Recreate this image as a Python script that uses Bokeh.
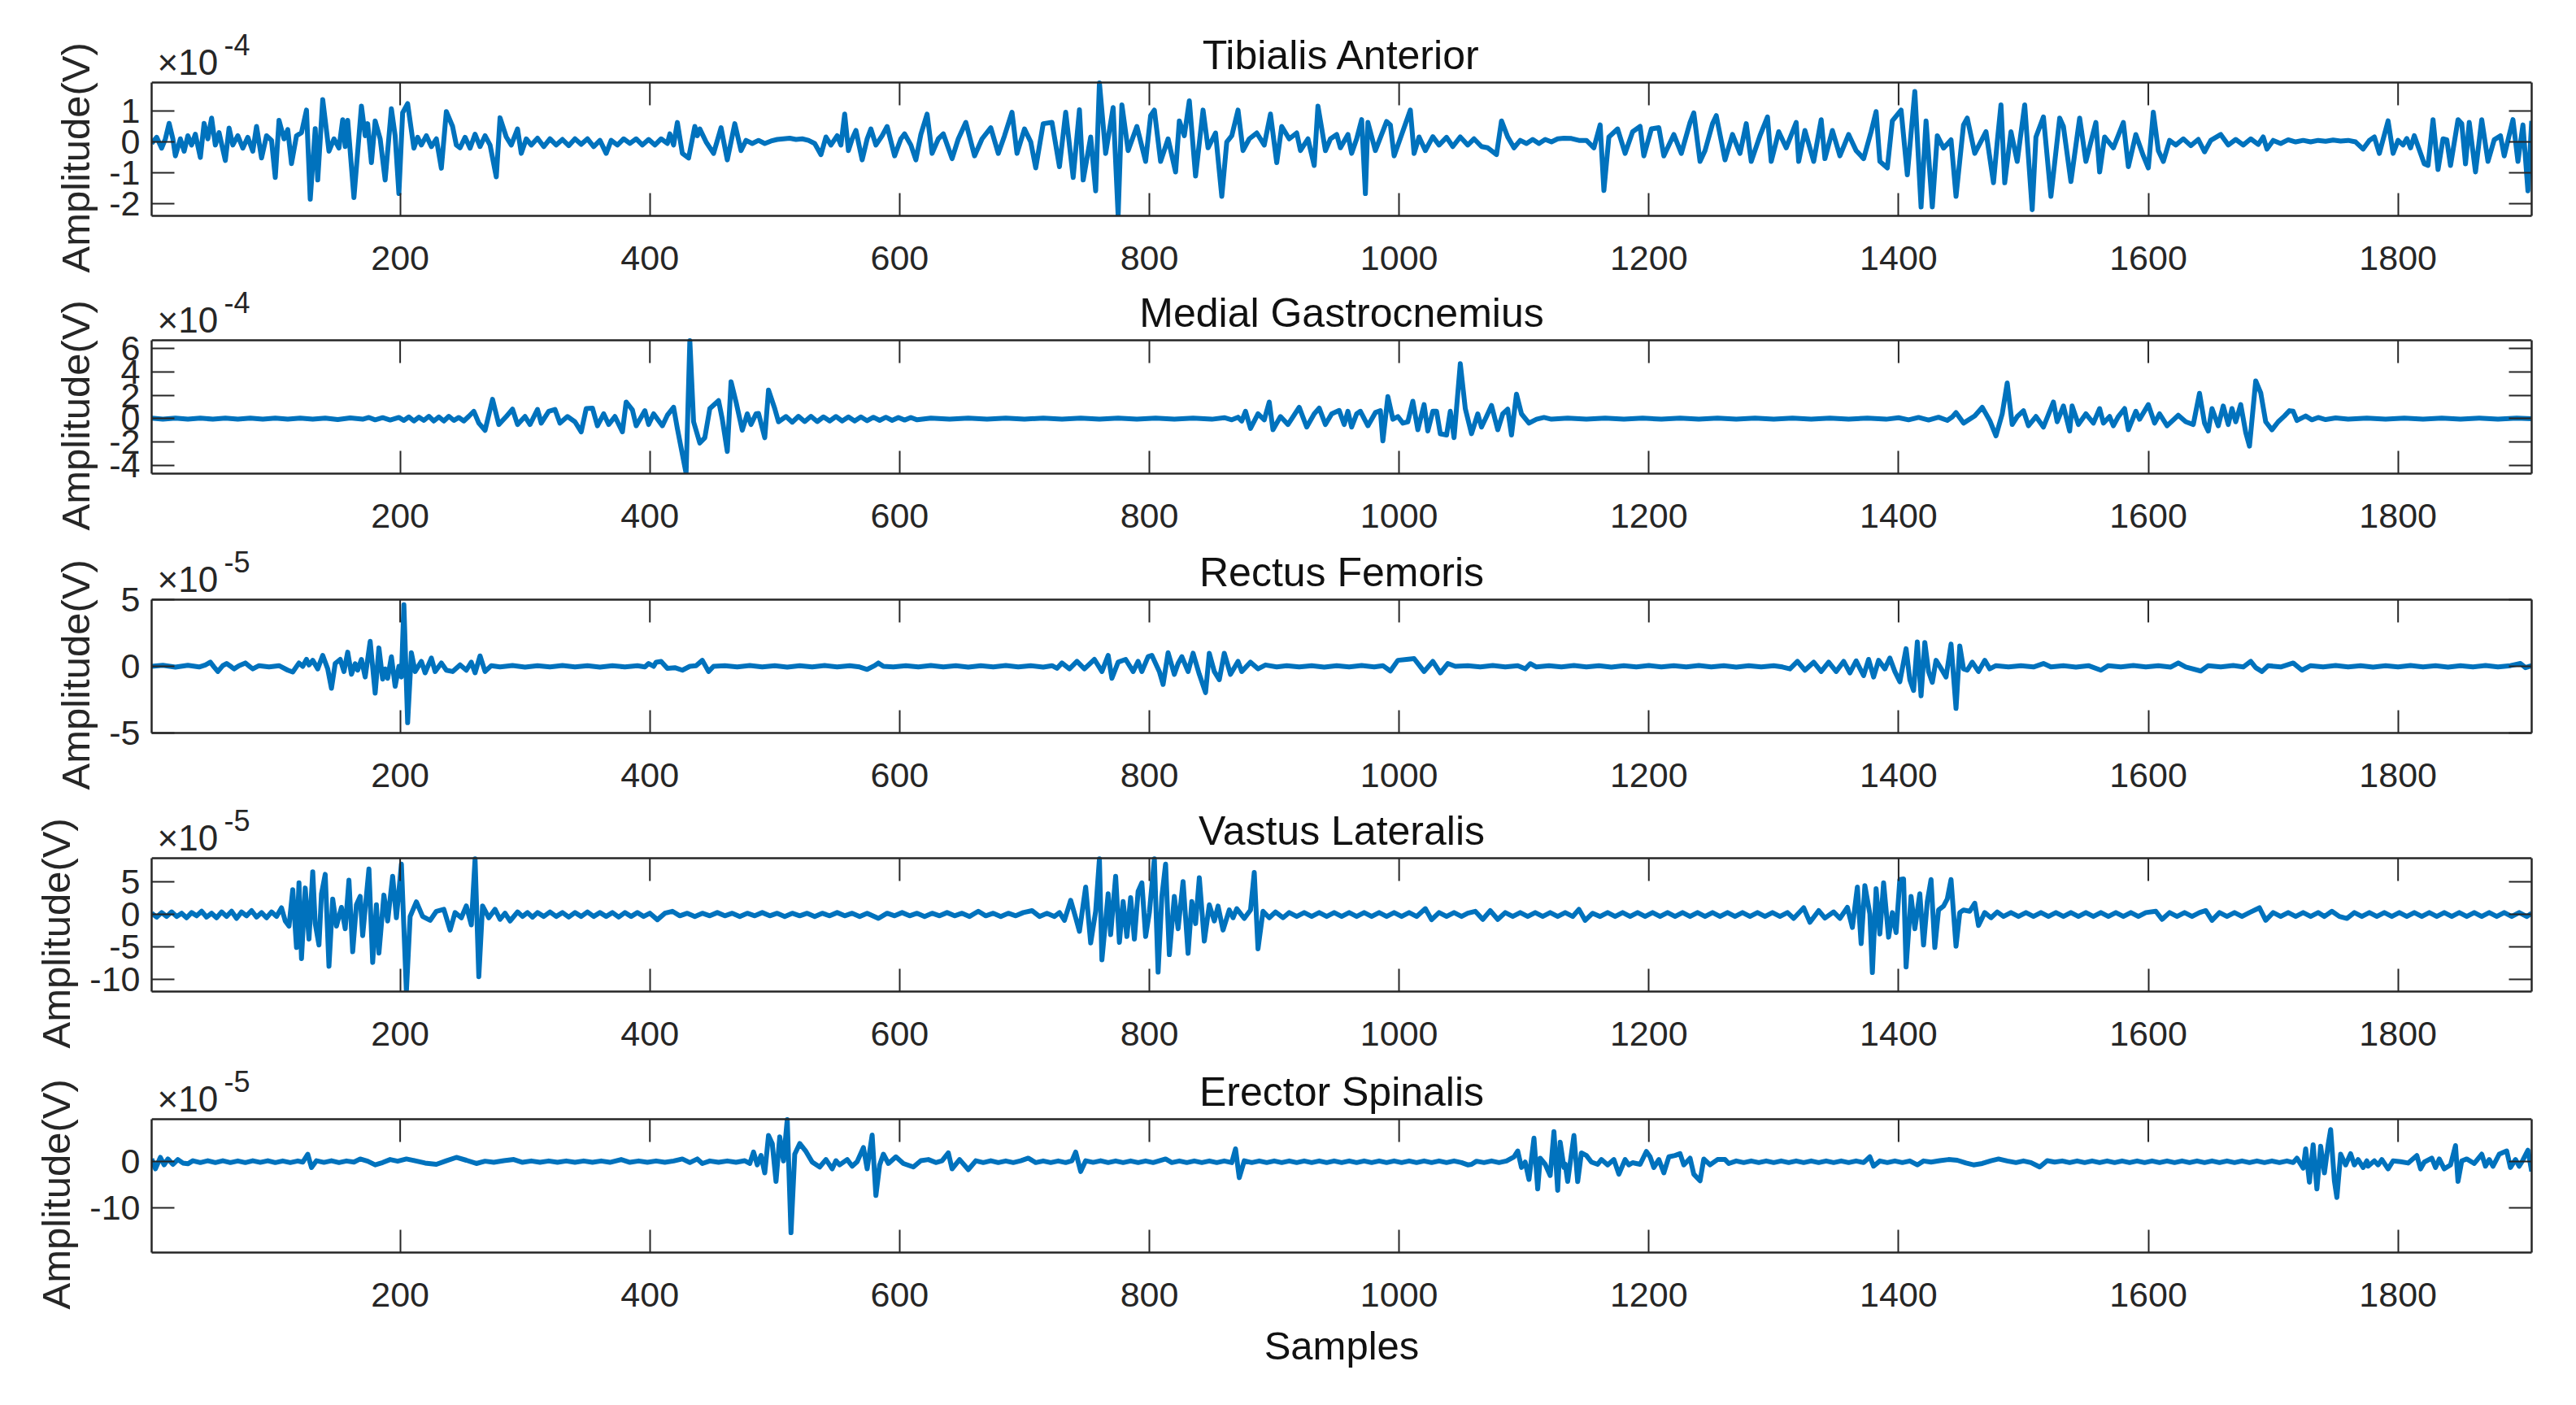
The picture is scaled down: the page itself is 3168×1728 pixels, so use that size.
from bokeh.plotting import figure
from bokeh.models import Range1d, FixedTicker, LinearAxis, Label, Span, Title
from bokeh.layouts import column
from bokeh.embed import file_html
from bokeh.resources import INLINE

# ---------------- data ----------------
titles = ["Tibialis Anterior", "Medial Gastrocnemius", "Rectus Femoris",
          "Vastus Lateralis", "Erector Spinalis"]
exponents = ["-4", "-4", "-5", "-5", "-5"]
y_limits = [(-2.39, 1.92), (-4.7, 6.7), (-5.0, 5.0), (-11.9, 8.7), (-19.7, 9.2)]
y_ticks = [[-2, -1, 0, 1], [-4, -2, 0, 2, 4, 6], [-5, 0, 5], [-10, -5, 0, 5], [-20, -10, 0]]
x_ticks = [200, 400, 600, 800, 1000, 1200, 1400, 1600, 1800]
x_limits = (1, 1907)

# (sample, amplitude in units of the panel's exponent)
tibialis = [(1,-0.05),(5,0.15),(9,-0.2),(12,0.1),(15,0.6),(18,0.1),(20,-0.45),(24,0.1),(27,-0.3),(30,0.2),(33,-0.1),(36,0.25),(40,-0.5),(43,0.6),(46,0.1),(49,0.77),(52,-0.1),(55,0.3),(60,-0.6),(63,0.45),(66,-0.1),(70,0.2),(74,-0.2),(78,0.15),(82,-0.3),(85,0.5),(89,-0.52),(93,0.2),(97,0.05),(100,-1.15),(103,0.7),(107,0.1),(110,0.4),(113,-0.7),(117,0.2),(121,0.3),(125,1.03),(128,-1.85),(132,0.43),(134,-1.23),(138,1.37),(143,-0.3),(147,0.1),(151,-0.2),(154,0.72),(156,-0.15),(158,0.7),(163,-1.8),(169,1.16),(172,0.2),(174,0.59),(177,-0.67),(180,0.68),(184,0.1),(188,-1.23),(193,1.07),(196,0.2),(199,-1.67),(202,0.94),(206,1.24),(211,-0.2),(214,0.15),(217,-0.1),(221,0.2),(225,-0.15),(229,0.1),(233,-0.85),(237,0.98),(242,0.5),(245,-0.1),(248,-0.19),(252,0.15),(256,-0.2),(260,0.25),(264,-0.15),(268,0.2),(272,-0.1),(277,-1.13),(280,0.78),(285,0.16),(289,-0.1),(294,0.42),(297,-0.37),(301,0.1),(305,-0.1),(310,0.12),(315,-0.15),(320,0.1),(325,-0.1),(330,0.08),(335,-0.12),(340,0.1),(345,-0.08),(350,0.1),(355,-0.15),(360,0.05),(365,-0.37),(369,0.05),(374,-0.1),(379,0.1),(384,-0.05),(389,0.1),(394,-0.1),(399,0.08),(404,-0.1),(409,0.1),(414,-0.05),(416,0.26),(419,-0.1),(422,0.63),(426,-0.37),(431,-0.52),(436,0.5),(438,0.2),(440,0.42),(445,0.0),(451,-0.37),(457,0.46),(462,-0.58),(468,0.59),(473,-0.28),(477,0.05),(482,-0.05),(487,0.05),(492,-0.05),(497,0.03),(502,0.08),(507,0.1),(512,0.12),(517,0.08),(522,0.1),(527,0.05),(532,-0.05),(537,-0.41),(541,0.16),(545,-0.1),(550,0.2),(553,-0.1),(556,0.9),(559,-0.28),(562,0.1),(565,0.37),(570,-0.58),(574,0.1),(577,0.42),(581,-0.1),(586,0.2),(590,0.5),(596,-0.45),(601,0.1),(604,0.26),(609,-0.1),(613,-0.58),(617,0.24),(622,0.9),(626,-0.37),(631,0.1),(635,0.26),(642,-0.54),(647,0.1),(653,0.63),(660,-0.45),(666,0.1),(673,0.46),(679,-0.37),(684,0.2),(690,0.96),(694,-0.37),(700,0.42),(705,0.0),(709,-0.84),(715,0.59),(722,0.63),(728,-0.8),(733,0.96),(739,-1.15),(744,1.04),(747,-1.23),(753,0.16),(757,-1.58),(760,1.91),(765,-0.37),(771,1.11),(775,-2.39),(778,1.2),(783,-0.28),(790,0.5),(797,-0.63),(801,0.85),(804,1.03),(809,-0.63),(815,0.1),(821,-0.97),(824,0.68),(828,0.2),(832,1.33),(837,-1.1),(843,1.03),(847,-0.19),(853,0.29),(858,-1.76),(862,0.0),(866,0.2),(871,1.03),(875,-0.28),(880,0.1),(886,0.29),(892,-0.1),(897,0.9),(902,-0.67),(906,0.5),(912,0.1),(918,0.29),(921,-0.28),(927,0.1),(932,-0.76),(935,1.16),(941,-0.28),(945,0.1),(950,0.24),(953,-0.19),(959,0.24),(962,-0.37),(966,0.1),(970,0.72),(973,-1.67),(975,0.63),(981,-0.28),(990,0.66),(993,0.55),(996,-0.45),(1009,1.03),(1012,-0.37),(1016,0.16),(1021,-0.28),(1027,0.17),(1032,-0.1),(1038,0.15),(1043,-0.15),(1049,0.16),(1055,-0.1),(1060,0.1),(1066,-0.15),(1071,-0.19),(1078,-0.41),(1082,0.68),(1087,0.16),(1092,-0.19),(1097,0.05),(1102,-0.05),(1107,0.08),(1112,-0.05),(1117,0.08),(1122,0.0),(1127,0.1),(1132,0.12),(1138,0.11),(1144,0.05),(1150,0.05),(1156,-0.19),(1161,0.55),(1164,-1.57),(1168,0.16),(1175,0.42),(1181,-0.37),(1187,0.33),(1193,0.5),(1196,-0.45),(1202,0.42),(1208,0.46),(1212,-0.45),(1220,0.24),(1226,-0.37),(1233,0.63),(1236,0.94),(1241,-0.63),(1245,-0.28),(1251,0.59),(1254,0.85),(1261,-0.58),(1267,0.24),(1273,-0.37),(1278,0.59),(1282,-0.63),(1289,0.2),(1295,0.81),(1298,-0.63),(1304,0.33),(1310,-0.19),(1318,0.63),(1320,-0.63),(1325,0.37),(1332,-0.63),(1338,0.72),(1341,-0.54),(1347,0.37),(1353,-0.45),(1360,0.24),(1366,-0.28),(1372,-0.54),(1378,0.33),(1382,0.98),(1385,-0.63),(1391,-0.84),(1395,0.68),(1402,1.03),(1407,-1.06),(1413,1.63),(1418,-2.1),(1422,0.68),(1427,-2.1),(1431,0.2),(1436,-0.2),(1442,0.07),(1446,-1.76),(1452,0.55),(1455,0.77),(1461,-0.37),(1470,0.33),(1476,-1.32),(1479,0.0),(1482,1.2),(1485,-1.32),(1490,0.33),(1495,-0.63),(1501,1.2),(1507,-2.19),(1510,0.16),(1516,0.81),(1522,-1.76),(1529,0.77),(1532,0.5),(1538,-1.28),(1545,0.77),(1550,-0.63),(1558,0.63),(1561,-0.97),(1565,0.16),(1572,-0.19),(1580,0.63),(1584,-0.8),(1590,0.24),(1596,-0.45),(1600,-0.84),(1604,0.96),(1608,-0.28),(1612,-0.63),(1617,0.05),(1622,-0.1),(1628,0.1),(1634,-0.12),(1640,0.08),(1645,-0.32),(1650,0.05),(1658,0.24),(1664,-0.1),(1670,0.08),(1676,-0.1),(1682,0.1),(1688,-0.08),(1692,0.16),(1695,-0.23),(1700,0.05),(1706,-0.05),(1712,0.07),(1718,0.0),(1724,0.05),(1730,0.0),(1736,0.05),(1742,0.02),(1748,0.06),(1754,0.03),(1760,0.05),(1766,0.0),(1772,-0.23),(1777,0.05),(1781,0.16),(1785,-0.37),(1792,0.68),(1796,-0.37),(1800,0.05),(1804,-0.1),(1807,0.11),(1810,-0.19),(1813,0.2),(1821,-0.71),(1824,-0.76),(1828,0.72),(1832,-0.89),(1836,0.1),(1839,0.07),(1842,-0.76),(1848,0.72),(1851,0.59),(1854,-0.71),(1857,0.63),(1862,-0.97),(1867,0.72),(1872,-0.63),(1877,0.07),(1882,0.2),(1885,-0.45),(1892,0.72),(1896,-0.63),(1900,0.55),(1904,-1.58),(1907,0.68)]

gastrocnemius = [(1,0.05),(10,-0.05),(20,0.05),(30,-0.05),(40,0.05),(50,-0.05),(60,0.05),(70,-0.05),(80,0.05),(90,-0.05),(100,0.05),(110,-0.05),(120,0.05),(130,-0.05),(140,0.05),(150,-0.08),(160,0.06),(170,-0.05),(175,0.1),(180,-0.1),(186,0.08),(192,-0.12),(199,0.1),(203,-0.15),(207,0.15),(211,-0.2),(215,0.12),(219,-0.15),(223,0.2),(227,-0.2),(231,0.15),(235,-0.2),(239,0.2),(243,-0.15),(247,0.1),(251,-0.2),(255,0.2),(259,0.63),(263,-0.38),(268,-1.0),(274,1.65),(279,-0.5),(285,0.18),(290,0.81),(294,-0.5),(300,0.18),(304,-0.5),(310,0.79),(313,-0.38),(319,0.63),(324,0.79),(328,-0.38),(334,0.18),(340,-0.27),(345,-1.13),(349,0.86),(354,0.9),(358,-0.61),(363,0.41),(367,-0.5),(372,0.18),(378,-1.13),(381,1.42),(386,0.75),(389,-0.61),(396,0.68),(399,-0.5),(403,0.41),(410,-0.61),(414,0.29),(419,0.97),(422,-0.84),(429,-4.68),(432,6.67),(435,-0.27),(440,-2.08),(444,-1.63),(448,0.86),(455,1.54),(458,-0.05),(462,-2.8),(465,3.16),(469,1.42),(474,-0.99),(478,0.41),(481,-0.5),(485,0.41),(487,0.45),(492,-1.63),(495,2.44),(500,0.86),(503,-0.27),(509,0.18),(514,-0.3),(519,0.2),(524,-0.25),(529,0.2),(534,-0.25),(539,0.15),(544,-0.2),(549,0.18),(554,-0.2),(559,0.15),(564,-0.2),(569,0.15),(574,-0.18),(579,0.12),(584,-0.15),(589,0.12),(594,-0.15),(599,0.1),(604,-0.12),(609,0.1),(614,-0.1),(625,0.05),(640,-0.05),(655,0.05),(670,-0.05),(685,0.05),(700,-0.05),(715,0.05),(730,-0.05),(745,0.05),(760,-0.05),(775,0.05),(790,-0.05),(805,0.05),(820,-0.05),(835,0.05),(850,-0.05),(860,0.08),(866,-0.1),(871,0.12),(874,-0.2),(877,0.63),(881,-0.84),(887,0.41),(892,-0.1),(896,1.42),(899,-0.95),(905,0.18),(911,-0.5),(920,0.97),(926,-0.72),(932,0.41),(936,0.9),(941,-0.5),(946,0.41),(952,0.7),(956,-0.5),(959,0.63),(962,-0.72),(966,0.41),(969,0.63),(975,-0.61),(981,0.52),(985,0.68),(987,-1.9),(991,1.88),(995,-0.05),(999,0.18),(1003,-0.38),(1007,-0.27),(1011,1.49),(1015,-0.95),(1020,1.2),(1023,-1.06),(1027,0.63),(1030,0.63),(1033,-1.29),(1038,-1.4),(1041,0.63),(1044,-1.63),(1049,4.7),(1053,0.86),(1058,-1.29),(1063,0.41),(1066,-0.72),(1070,0.18),(1074,1.13),(1079,-0.95),(1083,0.41),(1087,0.81),(1090,-1.4),(1094,2.1),(1098,0.41),(1104,-0.38),(1110,-0.05),(1116,0.1),(1122,-0.05),(1135,0.05),(1150,-0.05),(1165,0.05),(1180,-0.05),(1195,0.05),(1210,-0.05),(1225,0.05),(1240,-0.05),(1255,0.05),(1270,-0.05),(1285,0.05),(1300,-0.05),(1315,0.05),(1330,-0.05),(1345,0.05),(1360,-0.05),(1375,0.05),(1390,-0.05),(1400,0.08),(1408,-0.1),(1416,0.1),(1424,-0.12),(1432,0.12),(1439,-0.15),(1443,0.15),(1446,0.52),(1452,-0.38),(1461,0.23),(1467,0.97),(1473,-0.16),(1478,-1.47),(1483,0.41),(1487,3.05),(1491,-0.5),(1495,0.18),(1500,0.68),(1504,-0.61),(1510,0.18),(1516,-0.72),(1524,1.42),(1527,-0.27),(1532,1.08),(1537,-1.06),(1539,1.08),(1544,-0.5),(1550,0.41),(1556,-0.38),(1561,0.86),(1564,-0.38),(1569,0.18),(1572,-0.61),(1576,0.18),(1581,0.86),(1584,-0.95),(1590,0.63),(1593,-0.05),(1600,1.2),(1605,-0.38),(1609,0.41),(1615,-0.61),(1624,0.29),(1630,-0.27),(1636,-0.5),(1641,2.17),(1645,-0.38),(1648,-1.06),(1651,0.86),(1656,-0.61),(1660,1.08),(1664,-0.5),(1667,0.86),(1670,-0.27),(1674,1.2),(1678,-1.18),(1681,-2.35),(1686,3.23),(1690,2.21),(1694,-0.27),(1699,-0.95),(1704,-0.27),(1709,0.23),(1713,0.68),(1716,0.63),(1719,-0.16),(1726,0.23),(1731,-0.1),(1736,0.1),(1742,-0.08),(1750,0.06),(1760,-0.05),(1775,0.05),(1790,-0.05),(1805,0.05),(1820,-0.05),(1835,0.05),(1850,-0.05),(1865,0.05),(1880,-0.05),(1895,0.05),(1907,0.0)]

rectus = [(1,0.0),(10,0.08),(20,-0.06),(30,0.08),(39,-0.05),(44,0.1),(48,0.31),(51,-0.05),(54,-0.39),(58,0.05),(61,0.21),(65,-0.05),(67,-0.19),(71,0.05),(76,0.25),(80,-0.05),(82,-0.19),(87,0.05),(95,-0.05),(103,0.05),(110,-0.29),(114,-0.43),(119,0.25),(122,0.0),(125,0.52),(127,0.1),(130,0.45),(134,-0.19),(138,0.82),(142,-0.19),(145,-1.65),(148,0.21),(152,0.52),(155,-0.39),(158,1.06),(161,-0.6),(164,0.2),(166,-0.29),(169,0.52),(172,-0.8),(176,1.87),(180,-2.01),(183,1.38),(186,-0.96),(188,-0.2),(190,-0.9),(193,0.72),(196,-1.5),(199,0.0),(201,-0.8),(203,4.62),(206,-4.23),(209,1.02),(212,-0.39),(217,0.37),(220,-0.49),(225,0.62),(228,-0.39),(233,0.25),(237,-0.29),(242,-0.39),(248,0.11),(253,-0.29),(257,0.31),(260,-0.49),(264,0.78),(268,-0.39),(273,0.05),(280,-0.05),(290,0.06),(300,-0.06),(310,0.05),(320,-0.05),(330,0.06),(340,-0.05),(350,0.05),(360,-0.06),(370,0.05),(380,-0.05),(390,0.05),(396,-0.05),(399,0.21),(403,0.0),(405,0.31),(409,0.37),(414,-0.15),(420,-0.1),(426,-0.29),(432,0.0),(437,0.05),(442,0.45),(447,-0.39),(451,0.0),(460,0.05),(470,-0.05),(480,0.06),(490,-0.05),(500,0.05),(510,-0.06),(520,0.05),(530,-0.05),(540,0.06),(550,-0.05),(560,0.05),(568,-0.05),(574,-0.23),(580,0.05),(583,0.25),(587,0.0),(595,-0.05),(605,0.05),(615,-0.05),(625,0.06),(635,-0.05),(645,0.05),(655,-0.06),(665,0.05),(675,-0.05),(685,0.06),(695,-0.05),(705,0.05),(715,-0.06),(722,0.05),(726,-0.15),(730,0.25),(736,-0.19),(742,0.37),(748,-0.19),(756,0.52),(762,-0.39),(767,0.82),(770,-0.9),(775,0.31),(781,0.52),(787,-0.39),(791,0.37),(794,-0.39),(799,0.72),(802,0.82),(808,-0.39),(811,-1.36),(815,1.02),(820,-0.6),(823,0.21),(826,0.72),(831,-0.39),(835,0.98),(840,-0.6),(845,-1.97),(848,0.98),(852,-0.39),(856,-1.0),(860,0.98),(865,-0.6),(871,0.37),(874,-0.39),(881,0.31),(887,-0.19),(893,0.1),(902,-0.05),(910,0.05),(920,-0.05),(930,0.05),(940,-0.06),(950,0.05),(960,-0.05),(970,0.06),(980,-0.05),(987,0.05),(993,-0.35),(999,0.45),(1006,0.52),(1012,0.58),(1020,-0.39),(1027,0.37),(1033,-0.49),(1039,0.21),(1045,0.0),(1055,0.05),(1065,-0.05),(1075,0.06),(1085,-0.05),(1095,0.05),(1101,-0.19),(1105,0.2),(1110,-0.05),(1120,0.05),(1130,-0.05),(1140,0.06),(1150,-0.05),(1160,0.05),(1170,-0.06),(1180,0.05),(1190,-0.05),(1200,0.06),(1210,-0.05),(1220,0.05),(1230,-0.05),(1240,0.06),(1250,-0.05),(1260,0.05),(1270,-0.06),(1280,0.05),(1290,-0.05),(1300,0.05),(1307,-0.05),(1313,-0.19),(1319,0.37),(1325,-0.29),(1332,0.31),(1338,-0.39),(1344,0.31),(1350,-0.39),(1356,0.37),(1361,-0.49),(1366,0.41),(1372,-0.7),(1376,0.52),(1380,-0.8),(1384,0.45),(1389,-0.19),(1393,0.62),(1397,-0.39),(1401,-1.16),(1406,1.32),(1409,-1.0),(1412,-1.81),(1415,1.83),(1418,-2.21),(1421,1.79),(1424,-0.39),(1427,-1.2),(1430,0.45),(1433,0.0),(1438,-0.8),(1442,1.67),(1446,-3.16),(1449,1.53),(1452,-0.19),(1455,-0.29),(1459,0.31),(1464,-0.39),(1469,0.45),(1473,-0.19),(1478,0.05),(1488,-0.05),(1498,0.05),(1508,-0.05),(1516,0.21),(1522,-0.05),(1532,0.05),(1542,-0.06),(1552,0.05),(1562,-0.29),(1568,0.05),(1578,-0.05),(1588,0.06),(1598,-0.05),(1608,0.05),(1618,-0.06),(1624,0.25),(1630,-0.05),(1642,-0.35),(1648,0.05),(1658,-0.05),(1668,0.06),(1676,-0.05),(1682,0.37),(1686,-0.1),(1691,-0.39),(1696,0.05),(1706,-0.05),(1716,0.25),(1723,-0.29),(1730,0.05),(1740,-0.05),(1750,0.06),(1760,-0.05),(1770,0.05),(1780,-0.06),(1790,0.05),(1800,-0.05),(1810,0.06),(1820,-0.05),(1830,0.05),(1840,-0.06),(1850,0.05),(1860,-0.05),(1870,0.06),(1880,-0.05),(1890,0.05),(1898,0.21),(1902,-0.1),(1907,0.05)]

vastus = [(1,0.2),(5,-0.4),(9,0.3),(13,-0.3),(17,0.4),(21,-0.3),(25,0.2),(29,-0.5),(33,0.3),(37,-0.2),(41,0.5),(45,-0.4),(49,0.2),(53,-0.5),(57,0.4),(61,-0.3),(65,0.5),(69,-0.6),(73,0.4),(77,-0.2),(81,0.6),(85,-0.4),(89,0.3),(93,-0.5),(97,0.4),(101,-0.3),(105,1.04),(108,-1.0),(111,-1.8),(114,3.83),(117,-5.1),(119,4.9),(121,-6.8),(124,4.1),(127,-3.8),(130,6.6),(132,-1.4),(135,-4.7),(137,3.2),(140,6.2),(143,-8.0),(146,2.4),(149,-1.8),(153,1.1),(156,-2.2),(159,5.3),(162,-5.75),(165,1.5),(168,2.8),(170,-3.25),(175,7.04),(178,-7.4),(181,1.5),(183,-5.95),(187,3.0),(190,-1.0),(194,5.9),(197,-0.5),(201,7.8),(205,-11.9),(208,-0.3),(213,1.96),(218,-0.3),(224,-0.9),(229,0.5),(235,0.8),(240,-2.4),(244,0.3),(249,-0.5),(253,1.33),(257,-1.6),(260,8.6),(263,-9.6),(266,1.33),(271,-0.5),(276,0.8),(280,-0.75),(284,0.2),(288,-1.0),(294,0.4),(298,-0.3),(302,0.3),(306,-0.4),(310,0.3),(315,-0.3),(320,0.4),(325,-0.3),(330,0.3),(335,-0.4),(340,0.3),(345,-0.3),(350,0.4),(355,-0.3),(360,0.3),(365,-0.3),(370,0.3),(375,-0.4),(380,0.3),(385,-0.3),(390,0.3),(395,-0.3),(400,0.2),(406,-0.8),(412,0.2),(418,0.5),(424,-0.2),(430,0.2),(436,-0.3),(442,0.2),(448,-0.2),(454,0.3),(460,-0.2),(466,0.2),(472,-0.3),(478,0.2),(484,-0.2),(490,0.3),(496,-0.2),(502,0.2),(508,-0.3),(514,0.2),(520,-0.2),(526,0.2),(532,-0.3),(538,0.2),(544,-0.2),(550,0.3),(556,-0.2),(562,0.2),(568,-0.3),(574,0.2),(583,-0.6),(590,0.2),(596,-0.2),(602,0.3),(608,-0.2),(614,0.2),(620,-0.3),(626,0.2),(632,-0.2),(638,0.3),(644,-0.2),(650,0.2),(656,-0.3),(663,0.5),(669,-0.2),(675,0.2),(681,-0.3),(687,0.2),(693,-0.2),(699,0.3),(706,0.6),(712,-0.3),(718,0.2),(724,-0.3),(728,0.3),(732,-0.9),(737,2.2),(741,-0.5),(744,-2.6),(749,4.25),(753,-4.4),(757,0.5),(760,8.6),(762,-7.0),(767,3.2),(769,-3.1),(773,5.9),(776,-4.3),(779,2.0),(782,-3.4),(785,2.6),(788,-3.8),(791,3.6),(794,4.9),(797,-3.4),(800,0.3),(804,8.6),(807,-8.9),(810,2.8),(813,7.8),(816,-6.2),(820,2.8),(823,-2.2),(827,5.1),(831,-6.0),(834,2.0),(837,-1.4),(840,5.7),(844,-4.1),(848,1.5),(852,-1.0),(855,1.3),(859,-2.4),(864,0.7),(867,-0.5),(870,0.9),(876,-0.6),(881,0.7),(884,6.5),(887,-5.3),(891,0.5),(896,-0.5),(901,0.4),(907,-0.5),(912,0.3),(918,-0.3),(924,0.3),(930,-0.3),(936,0.3),(942,-0.3),(948,0.3),(954,-0.3),(960,0.3),(966,-0.3),(972,0.3),(978,-0.3),(984,0.3),(990,-0.3),(996,0.3),(1002,-0.3),(1008,0.3),(1014,-0.3),(1021,0.9),(1026,-0.8),(1032,0.3),(1038,-0.3),(1044,0.3),(1050,-0.3),(1055,0.2),(1061,0.5),(1067,-0.75),(1073,0.6),(1079,-0.75),(1085,0.3),(1091,-0.3),(1097,0.3),(1103,-0.3),(1109,0.3),(1115,-0.3),(1121,0.3),(1127,-0.3),(1133,0.3),(1139,-0.3),(1144,0.8),(1149,-0.9),(1155,0.2),(1161,-0.3),(1167,0.3),(1173,-0.3),(1179,0.3),(1185,-0.3),(1191,0.3),(1197,-0.3),(1203,0.3),(1209,-0.3),(1215,0.3),(1221,-0.3),(1227,0.3),(1233,-0.3),(1239,0.3),(1245,-0.3),(1251,0.3),(1257,-0.3),(1263,0.3),(1269,-0.3),(1275,0.3),(1281,-0.3),(1287,0.3),(1293,-0.3),(1299,0.3),(1305,-0.3),(1311,0.3),(1316,-0.6),(1324,1.04),(1329,-1.2),(1336,0.6),(1341,-0.55),(1348,0.4),(1353,-0.6),(1359,1.1),(1363,-2.0),(1367,4.25),(1370,-4.5),(1373,4.46),(1377,0.1),(1379,-8.96),(1382,4.0),(1385,-3.0),(1388,4.9),(1392,-3.5),(1395,0.3),(1398,-2.8),(1401,5.4),(1404,5.5),(1406,-8.1),(1410,2.8),(1413,-2.2),(1417,3.2),(1420,-4.7),(1423,2.0),(1426,5.4),(1429,-5.1),(1432,0.7),(1436,1.3),(1439,2.4),(1442,5.4),(1446,-4.9),(1449,0.3),(1452,0.7),(1457,0.5),(1461,1.75),(1464,-1.7),(1469,0.3),(1474,-0.5),(1479,0.4),(1484,-0.3),(1490,0.3),(1496,-0.3),(1502,0.3),(1508,-0.3),(1514,0.3),(1520,-0.3),(1526,0.3),(1532,-0.3),(1538,0.3),(1544,-0.3),(1550,0.3),(1556,-0.3),(1562,0.3),(1568,-0.3),(1574,0.3),(1580,-0.3),(1586,0.3),(1592,-0.3),(1598,0.3),(1606,0.5),(1611,-0.75),(1617,0.3),(1623,-0.3),(1629,0.3),(1635,-0.3),(1641,0.3),(1646,0.6),(1651,-0.9),(1657,0.3),(1663,-0.3),(1669,0.3),(1675,-0.3),(1681,0.3),(1689,1.04),(1694,-0.9),(1700,0.3),(1706,-0.3),(1712,0.3),(1718,-0.3),(1724,0.3),(1730,-0.3),(1736,0.3),(1741,-0.3),(1747,0.5),(1753,-0.3),(1759,-0.6),(1765,0.3),(1771,-0.3),(1777,0.3),(1783,-0.3),(1789,0.3),(1795,-0.3),(1801,0.3),(1807,-0.3),(1813,0.3),(1819,-0.3),(1825,0.3),(1831,-0.3),(1837,0.3),(1843,-0.3),(1849,0.3),(1855,-0.3),(1861,0.3),(1867,-0.3),(1873,0.3),(1879,-0.3),(1885,0.3),(1891,-0.3),(1897,0.3),(1903,-0.3),(1907,0.2)]

erector = [(1,0.58),(4,-1.56),(8,0.92),(11,-0.7),(14,0.58),(18,-0.58),(22,0.46),(26,-0.3),(30,-0.46),(34,0.2),(40,-0.2),(46,0.2),(52,-0.2),(58,0.2),(64,-0.2),(70,0.15),(76,-0.2),(82,0.2),(88,-0.15),(94,0.2),(100,-0.2),(106,0.15),(112,-0.2),(118,0.15),(122,-0.1),(126,1.6),(129,-1.27),(133,0.2),(139,-0.15),(145,0.2),(151,-0.2),(157,0.15),(163,-0.1),(168,0.58),(174,0.1),(180,-0.7),(186,-0.2),(192,0.46),(198,0.1),(205,0.58),(212,0.2),(220,-0.3),(229,-0.58),(237,0.2),(245,0.92),(253,0.3),(261,-0.4),(268,0.1),(275,-0.15),(283,0.2),(291,0.46),(298,-0.15),(305,0.15),(312,-0.15),(319,0.15),(326,-0.15),(333,0.15),(340,-0.15),(347,0.15),(354,-0.15),(361,0.15),(368,-0.15),(377,0.46),(384,-0.15),(391,0.15),(398,-0.15),(405,0.15),(412,-0.15),(419,0.15),(426,0.58),(432,-0.2),(438,0.58),(442,-0.4),(448,0.15),(455,-0.15),(462,0.15),(469,-0.15),(476,0.2),(480,-0.4),(483,2.08),(486,-0.7),(489,1.33),(492,-2.43),(495,5.66),(498,3.93),(501,-4.28),(504,5.38),(507,0.15),(510,9.13),(513,-15.4),(516,1.62),(520,3.93),(525,2.2),(530,-0.1),(536,-1.16),(541,0.46),(546,-1.56),(549,0.2),(552,-0.7),(558,0.46),(562,-0.98),(566,0.0),(571,3.06),(574,-1.56),(578,5.78),(581,-7.34),(584,-0.7),(587,1.62),(591,-0.4),(597,1.04),(603,-0.4),(611,-1.16),(617,0.2),(623,0.46),(629,-0.2),(634,0.2),(639,1.9),(642,-1.56),(648,0.46),(655,-1.73),(661,0.2),(667,-0.2),(673,0.2),(679,-0.2),(685,0.15),(691,-0.2),(697,0.2),(703,0.75),(709,-0.2),(715,0.15),(721,-0.2),(727,0.15),(733,-0.2),(738,0.2),(741,2.08),(745,-2.14),(749,0.2),(755,-0.15),(761,0.2),(767,-0.2),(773,0.15),(779,-0.2),(785,0.15),(791,-0.2),(797,0.15),(803,-0.2),(808,0.2),(813,0.58),(818,-0.2),(824,0.15),(830,-0.2),(836,0.15),(842,-0.2),(848,0.15),(854,-0.2),(860,0.15),(866,-0.2),(869,2.77),(872,-3.47),(876,0.2),(882,-0.2),(888,0.15),(894,-0.2),(900,0.15),(906,-0.2),(912,0.15),(918,-0.2),(924,0.15),(930,-0.2),(936,0.15),(942,-0.2),(948,0.15),(954,-0.2),(960,0.15),(966,-0.2),(972,0.15),(978,-0.2),(984,0.15),(990,-0.2),(996,0.15),(1002,-0.2),(1008,0.15),(1014,-0.2),(1020,0.15),(1026,-0.2),(1032,0.15),(1038,-0.2),(1044,0.15),(1050,-0.2),(1055,-0.7),(1058,-0.58),(1062,0.1),(1068,-0.2),(1074,0.15),(1080,-0.2),(1086,0.15),(1092,1.04),(1095,2.31),(1098,-1.27),(1101,-0.1),(1104,-3.87),(1108,5.09),(1111,-5.9),(1113,0.75),(1117,-0.58),(1121,-3.0),(1124,6.53),(1127,-6.2),(1129,4.22),(1132,-1.27),(1133,-0.5),(1135,-4.28),(1140,5.66),(1143,-4.33),(1146,1.9),(1150,1.33),(1154,-0.1),(1159,-0.58),(1162,0.46),(1167,-0.7),(1172,0.46),(1176,-2.72),(1181,0.46),(1184,-0.7),(1187,-0.23),(1193,-0.58),(1198,2.2),(1201,1.04),(1204,-1.27),(1208,0.46),(1212,-2.43),(1216,1.04),(1221,1.33),(1225,1.73),(1228,-0.7),(1233,0.75),(1236,-2.72),(1241,-4.16),(1244,0.58),(1249,-0.7),(1255,0.46),(1261,0.46),(1264,-0.4),(1270,0.15),(1276,-0.2),(1282,0.15),(1288,-0.2),(1294,0.15),(1300,-0.2),(1306,0.15),(1312,-0.2),(1318,0.15),(1324,-0.2),(1330,0.15),(1336,-0.2),(1342,0.15),(1348,-0.2),(1354,0.15),(1360,-0.2),(1366,0.15),(1372,-0.2),(1377,1.04),(1380,-0.98),(1385,0.15),(1391,-0.2),(1397,0.15),(1403,-0.2),(1409,0.15),(1415,-0.7),(1420,0.15),(1426,-0.1),(1433,0.2),(1440,0.46),(1447,0.3),(1454,-0.3),(1460,-0.7),(1467,-0.4),(1474,0.2),(1480,0.58),(1487,0.15),(1494,-0.2),(1500,0.15),(1506,-0.2),(1513,-1.16),(1519,0.2),(1525,-0.1),(1531,0.15),(1537,-0.2),(1543,0.15),(1549,-0.2),(1555,0.15),(1561,-0.2),(1567,0.15),(1573,-0.2),(1579,0.15),(1585,-0.2),(1591,0.15),(1597,-0.2),(1603,0.15),(1609,-0.2),(1615,0.15),(1621,-0.2),(1627,0.15),(1633,-0.2),(1639,0.15),(1645,-0.2),(1651,0.15),(1657,-0.2),(1663,0.15),(1669,-0.2),(1675,0.15),(1681,-0.2),(1687,0.15),(1693,-0.2),(1699,0.15),(1705,-0.2),(1711,0.15),(1716,-0.2),(1719,0.75),(1724,-1.39),(1726,2.77),(1729,-4.45),(1732,3.64),(1735,-5.9),(1738,3.35),(1741,-2.43),(1744,3.64),(1746,6.94),(1749,-4.16),(1751,-7.75),(1754,1.62),(1758,-0.7),(1762,1.73),(1765,-0.7),(1768,0.46),(1772,-1.27),(1775,0.17),(1776,-0.98),(1781,0.17),(1784,-0.7),(1787,0.46),(1792,-1.56),(1796,0.17),(1802,0.0),(1808,-0.3),(1815,1.33),(1818,-1.56),(1821,-0.1),(1827,0.75),(1830,-1.27),(1833,0.58),(1837,-1.56),(1842,-0.7),(1846,3.47),(1848,-4.28),(1851,0.17),(1855,0.58),(1861,-0.4),(1867,1.62),(1870,-0.98),(1873,0.46),(1876,-0.98),(1881,1.62),(1887,2.31),(1890,-1.27),(1894,0.46),(1897,-0.98),(1900,0.35),(1904,2.49),(1907,-2.14)]

series = [tibialis, gastrocnemius, rectus, vastus, erector]

# ---------------- layout / style ----------------
FONT = "Liberation Sans"
AX = "#262626"
LINE = "#0072BD"
BOX_PX = 164                       # height of each axes box in pixels
header_px = [101, 71, 73, 72, 75]   # space above each box (title + exponent)
bottom_px = [82, 82, 82, 82, 170]
TICK_LEN = 28
TITLE_UP = 34      # title centre, px above the box
MANT_UP = 25       # "x10" centre, px above the box
EXP_UP = 47        # exponent centre, px above the box


def style_axis(ax, ticks, show_labels):
    ax.ticker = FixedTicker(ticks=ticks, minor_ticks=[])
    ax.major_label_overrides = {t: str(t) for t in ticks}
    ax.axis_line_color = AX
    ax.axis_line_width = 2.5
    ax.major_tick_in = TICK_LEN
    ax.major_tick_out = 0
    ax.major_tick_line_color = AX
    ax.major_tick_line_width = 2
    ax.minor_tick_line_color = None
    ax.major_label_text_font = FONT
    if show_labels:
        ax.major_label_text_font_size = "43px"
        ax.major_label_text_color = AX
    else:
        ax.major_label_text_font_size = "0px"
        ax.major_label_text_color = None
        ax.major_label_standoff = 0


figs = []
for i in range(5):
    xs = [pt[0] for pt in series[i]]
    ys = [pt[1] for pt in series[i]]
    ymin, ymax = y_limits[i]
    dpp = (ymax - ymin) / BOX_PX          # data units per pixel
    p = figure(width=3160, height=header_px[i] + BOX_PX + bottom_px[i],
               output_backend="svg", toolbar_location=None,
               x_range=Range1d(x_limits[0], x_limits[1]),
               y_range=Range1d(ymin, ymax + header_px[i] * dpp),
               min_border_left=186, min_border_right=47,
               min_border_top=0, min_border_bottom=bottom_px[i])
    p.title.visible = False
    p.background_fill_color = "white"
    p.border_fill_color = "white"
    p.outline_line_color = None
    p.xgrid.visible = False
    p.ygrid.visible = False

    p.line(xs, ys, line_color=LINE, line_width=6, line_join="round")

    bottom = p.below[0]
    left = p.left[0]
    style_axis(bottom, x_ticks, True)
    style_axis(left, y_ticks[i], True)
    left.bounds = (ymin, ymax)
    bottom.major_label_standoff = 37
    left.major_label_standoff = 14

    right_ax = LinearAxis()
    style_axis(right_ax, y_ticks[i], False)
    right_ax.bounds = (ymin, ymax)
    p.add_layout(right_ax, "right")

    # top edge of the box and its inward ticks
    p.add_layout(Span(location=ymax, dimension="width", line_color=AX, line_width=2.5))
    p.segment(x0=x_ticks, y0=[ymax] * len(x_ticks), x1=x_ticks,
              y1=[ymax - TICK_LEN * dpp] * len(x_ticks), line_color=AX, line_width=2)

    # y axis label (as a side title so it can be centred on the box)
    p.add_layout(Title(text="Amplitude(V)", align="left", offset=-70, standoff=24,
                       text_font=FONT, text_font_size="49px", text_font_style="normal",
                       text_color=AX), "left")

    # panel title and exponent
    p.add_layout(Label(x=(x_limits[0] + x_limits[1]) / 2, y=ymax + TITLE_UP * dpp,
                       text=titles[i], text_font=FONT, text_font_size="50px",
                       text_color="#111111", text_align="center", text_baseline="middle"))
    p.add_layout(Label(x=x_limits[0], y=ymax + MANT_UP * dpp, x_offset=7,
                       text="\u00d710", text_font=FONT, text_font_size="44px",
                       text_color=AX, text_baseline="middle", text_align="left"))
    p.add_layout(Label(x=x_limits[0], y=ymax + EXP_UP * dpp, x_offset=89,
                       text=exponents[i], text_font=FONT, text_font_size="36px",
                       text_color=AX, text_baseline="middle", text_align="left"))

    if i == 4:
        bottom.axis_label = "Samples"
        bottom.axis_label_text_font = FONT
        bottom.axis_label_text_font_size = "49px"
        bottom.axis_label_text_font_style = "normal"
        bottom.axis_label_text_color = "#111111"
        bottom.axis_label_standoff = 18
    figs.append(p)

layout = column(*figs, spacing=0)
open("out.html", "w").write(file_html(layout, INLINE))
